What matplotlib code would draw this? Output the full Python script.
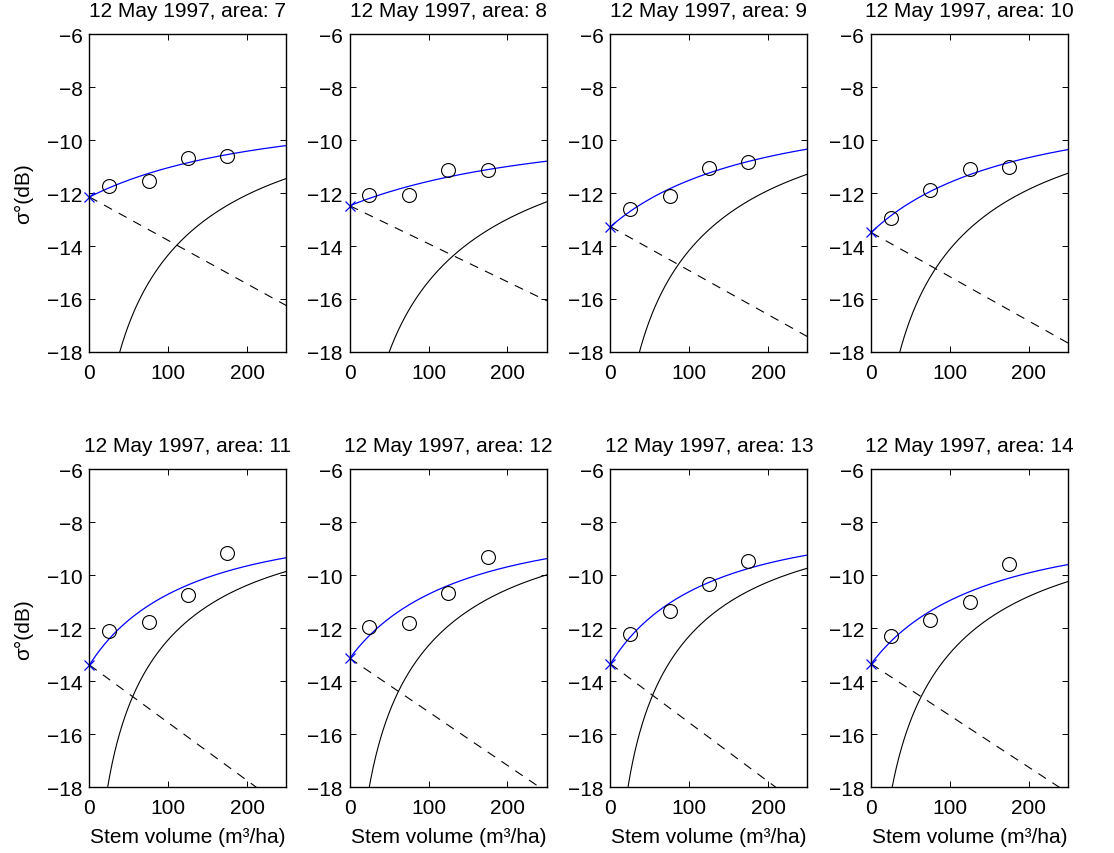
import numpy as np
import matplotlib
matplotlib.use("Agg")
import matplotlib.pyplot as plt

plt.rcParams['font.family'] = ['Liberation Sans', 'DejaVu Sans']
plt.rcParams['font.size'] = 15
plt.rcParams['lines.scale_dashes'] = False

# measured stem volume classes and backscatter (dB)
areas = [7, 8, 9, 10, 11, 12, 13, 14]
stem_vol = np.array([25, 75, 125, 175])
sigma_meas = [
    [-11.72, -11.55, -10.67, -10.60],
    [-12.06, -12.06, -11.14, -11.14],
    [-12.59, -12.11, -11.06, -10.81],
    [-12.93, -11.89, -11.11, -11.01],
    [-12.11, -11.77, -10.74, -9.16],
    [-11.96, -11.78, -10.65, -9.31],
    [-12.21, -11.35, -10.31, -9.46],
    [-12.30, -11.68, -10.99, -9.56],
]

# fitted water-cloud model parameters per area
ground_db = [-12.15, -12.48, -13.27, -13.49, -13.38, -13.13, -13.34, -13.34]
atten_db_per_100 = [1.64, 1.435, 1.66, 1.67, 2.18, 2.02, 2.22, 1.95]
veg_db = [-9.31, -9.83, -9.18, -9.16, -8.39, -8.35, -8.31, -8.52]

V = np.linspace(0, 250, 501)

fig = plt.figure(figsize=(11.14, 8.54), dpi=100)
lefts = [0.0803, 0.314, 0.548, 0.782]
bottoms = [0.5867, 0.0769]
w, h = 0.1768, 0.3722

for i, area in enumerate(areas):
    r, c = divmod(i, 4)
    ax = fig.add_axes([lefts[c], bottoms[r], w, h])

    s_gr = 10 ** (ground_db[i] / 10)
    s_veg = 10 ** (veg_db[i] / 10)
    trans = 10 ** (-atten_db_per_100[i] / 100 * V / 10)
    ground_part = s_gr * trans
    veg_part = s_veg * (1 - trans)
    with np.errstate(divide='ignore'):
        ground_curve = 10 * np.log10(ground_part)
        veg_curve = 10 * np.log10(veg_part)
    total_curve = 10 * np.log10(ground_part + veg_part)

    ax.plot(V, ground_curve, color='k', lw=0.8, dashes=(6.5, 5.5))
    ax.plot(V, veg_curve, color='k', lw=0.8)
    ax.plot(V, total_curve, color='#0000ff', lw=0.9)
    ax.plot([0], [ground_db[i]], 'x', color='#0000ff', ms=7, mew=0.9, clip_on=False)
    ax.plot(stem_vol, sigma_meas[i], 'o', mfc='none', mec='k', ms=10, mew=0.8)

    ax.set_xlim(0, 250)
    ax.set_ylim(-18, -6)
    ax.set_xticks([0, 100, 200])
    ax.set_yticks(np.arange(-18, -5, 2))
    ax.tick_params(direction='in', top=True, right=True, length=4, width=0.7)
    ax.tick_params(axis='x', pad=8)
    ax.tick_params(axis='y', pad=5)
    for sp in ax.spines.values():
        sp.set_linewidth(1.0)
    ax.set_title('12 May 1997, area: %d' % area, fontsize=15, pad=13)
    if c == 0:
        ax.set_ylabel('σ°(dB)', labelpad=10)
    if r == 1:
        ax.set_xlabel('Stem volume (m³/ha)', labelpad=7)

fig.savefig('out.png', dpi=100)
